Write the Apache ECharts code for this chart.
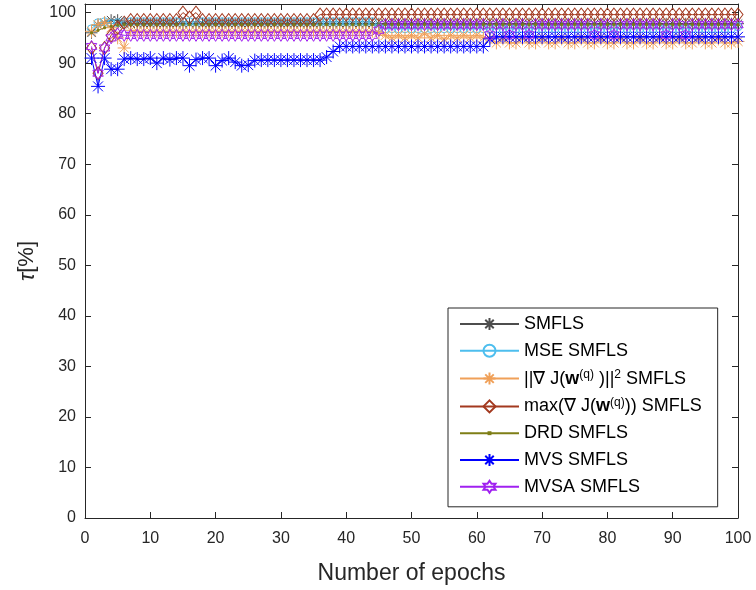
<!DOCTYPE html>
<html>
<head>
<meta charset="utf-8">
<script src="https://cdn.jsdelivr.net/npm/echarts@6/dist/echarts.min.js"></script>
<style>
html,body{margin:0;padding:0;background:#fff;}
#chart{width:756px;height:590px;}
</style>
</head>
<body>
<div id="chart"></div>
<script>
// ---- data ----
var epochs = [];
for (var k = 1; k <= 100; k++) epochs.push(k);

var seriesNames = ['SMFLS', 'MSE SMFLS', '||∇ J(w(q) )||2 SMFLS', 'max(∇ J(w(q))) SMFLS', 'DRD SMFLS', 'MVS SMFLS', 'MVSA SMFLS'];

var smfls = [
  96.0, 97.5, 98.0, 98.5, 98.5, 97.8, 97.8, 97.8, 97.8, 97.8,
  97.8, 97.8, 97.8, 97.8, 97.8, 97.8, 97.8, 97.8, 97.8, 97.8,
  97.8, 97.8, 97.8, 97.8, 97.8, 97.8, 97.8, 97.8, 97.8, 97.8,
  97.8, 97.8, 97.8, 97.8, 97.8, 97.8, 97.8, 97.8, 97.8, 97.8,
  97.8, 97.8, 97.8, 97.8, 97.8, 97.8, 97.8, 97.8, 97.8, 97.8,
  97.8, 97.8, 97.8, 97.8, 97.8, 97.8, 97.8, 97.8, 97.8, 97.8,
  97.8, 97.8, 97.8, 97.8, 97.8, 97.8, 97.8, 97.8, 97.8, 97.8,
  97.8, 97.8, 97.8, 97.8, 97.8, 97.8, 97.8, 97.8, 97.8, 97.8,
  97.8, 97.8, 97.8, 97.8, 97.8, 97.8, 97.8, 97.8, 97.8, 97.8,
  97.8, 97.8, 97.8, 97.8, 97.8, 97.8, 97.8, 97.8, 97.8, 97.8
];

var mseSmfls = [
  96.8, 98.0, 98.2, 97.8, 98.0, 98.2, 98.2, 98.2, 98.2, 98.2,
  98.2, 98.2, 98.2, 98.2, 98.2, 98.2, 98.2, 98.2, 98.2, 98.2,
  98.2, 98.2, 98.2, 98.2, 98.2, 98.2, 98.2, 98.2, 98.2, 98.2,
  98.2, 98.2, 98.2, 98.2, 98.2, 98.2, 98.2, 98.2, 98.2, 98.2,
  98.2, 98.2, 98.2, 98.2, 97.0, 96.8, 96.8, 96.8, 96.8, 96.8,
  96.8, 96.8, 96.8, 96.8, 96.8, 96.8, 96.8, 96.8, 96.8, 96.8,
  96.8, 96.8, 96.8, 96.8, 96.8, 96.8, 96.8, 96.8, 96.8, 96.8,
  96.8, 96.8, 96.8, 96.8, 96.8, 96.8, 96.8, 96.8, 96.8, 96.8,
  96.8, 96.8, 96.8, 96.8, 96.8, 96.8, 96.8, 96.8, 96.8, 96.8,
  96.8, 96.8, 96.8, 96.8, 96.8, 96.8, 96.8, 96.8, 96.8, 97.2
];

var gradSmfls = [
  96.3, 97.6, 98.0, 97.0, 95.0, 93.0, 96.5, 96.3, 96.3, 96.3,
  96.3, 96.3, 96.3, 96.3, 96.3, 96.3, 96.3, 96.3, 96.3, 96.3,
  96.3, 96.3, 96.3, 96.3, 96.3, 96.3, 96.3, 96.3, 96.3, 96.3,
  96.3, 96.3, 96.3, 96.3, 96.3, 96.3, 96.3, 96.3, 96.3, 96.3,
  96.3, 96.3, 96.3, 96.3, 96.0, 95.5, 95.0, 95.5, 95.0, 95.5,
  95.0, 95.8, 95.0, 95.5, 94.8, 95.5, 95.0, 95.5, 95.0, 95.5,
  95.0, 95.0, 94.0, 94.8, 94.0, 94.0, 94.8, 94.0, 94.0, 94.8,
  94.0, 94.0, 94.8, 94.0, 94.0, 94.8, 94.0, 94.0, 94.8, 94.0,
  94.0, 94.8, 94.0, 94.0, 94.8, 94.0, 94.0, 94.8, 94.0, 94.0,
  94.8, 94.0, 94.0, 94.8, 94.0, 94.0, 94.8, 94.0, 94.0, 94.3
];

var maxSmfls = [
  93.0, 88.0, 93.0, 95.5, 97.0, 98.0, 98.5, 98.5, 98.5, 98.5,
  98.5, 98.5, 98.5, 98.5, 100.0, 99.0, 100.0, 98.5, 98.5, 98.5,
  98.5, 98.5, 98.5, 98.5, 98.5, 98.5, 98.5, 98.5, 98.5, 98.5,
  98.5, 98.5, 98.5, 98.5, 98.5, 99.6, 99.6, 99.6, 99.6, 99.6,
  99.6, 99.6, 99.6, 99.6, 99.6, 99.6, 99.6, 99.6, 99.6, 99.6,
  99.6, 99.6, 99.6, 99.6, 99.6, 99.6, 99.6, 99.6, 99.6, 99.6,
  99.6, 99.6, 99.6, 99.6, 99.6, 99.6, 99.6, 99.6, 99.6, 99.6,
  99.6, 99.6, 99.6, 99.6, 99.6, 99.6, 99.6, 99.6, 99.6, 99.6,
  99.6, 99.6, 99.6, 99.6, 99.6, 99.6, 99.6, 99.6, 99.6, 99.6,
  99.6, 99.6, 99.6, 99.6, 99.6, 99.6, 99.6, 99.6, 99.6, 99.6
];

var drdSmfls = [
  96.0, 96.5, 97.0, 97.3, 97.5, 97.6, 97.6, 97.6, 97.6, 97.6,
  97.6, 97.6, 97.6, 97.6, 97.6, 97.6, 97.6, 97.6, 97.6, 97.6,
  97.6, 97.6, 97.6, 97.6, 97.6, 97.6, 97.6, 97.6, 97.6, 97.6,
  97.6, 97.6, 97.6, 97.6, 97.6, 97.6, 97.6, 97.6, 97.6, 97.6,
  97.6, 97.6, 97.6, 97.6, 97.6, 97.6, 97.6, 97.6, 97.6, 97.6,
  97.6, 97.6, 97.6, 97.6, 97.6, 97.6, 97.6, 97.6, 97.6, 97.6,
  97.6, 97.6, 97.6, 97.6, 97.6, 97.6, 97.6, 97.6, 97.6, 97.6,
  97.6, 97.6, 97.6, 97.6, 97.6, 97.6, 97.6, 97.6, 97.6, 97.6,
  97.6, 97.6, 97.6, 97.6, 97.6, 97.6, 97.6, 97.6, 97.6, 97.6,
  97.6, 97.6, 97.6, 97.6, 97.6, 97.6, 97.6, 97.6, 97.6, 97.6
];

var mvsSmfls = [
  91.0, 85.4, 91.0, 88.8, 88.8, 90.8, 91.0, 90.8, 90.8, 91.0,
  90.0, 91.0, 90.7, 91.0, 91.0, 89.5, 90.7, 91.0, 91.0, 89.5,
  90.5, 91.0, 90.2, 89.5, 89.6, 90.5, 90.6, 90.6, 90.6, 90.6,
  90.6, 90.6, 90.6, 90.6, 90.6, 90.6, 91.2, 92.3, 93.3, 93.3,
  93.3, 93.3, 93.3, 93.3, 93.3, 93.3, 93.3, 93.3, 93.3, 93.3,
  93.3, 93.3, 93.3, 93.3, 93.3, 93.3, 93.3, 93.3, 93.3, 93.3,
  93.3, 94.8, 95.2, 95.2, 95.2, 95.2, 95.2, 95.2, 95.2, 95.2,
  95.2, 95.2, 95.2, 95.2, 95.2, 95.2, 95.2, 95.2, 95.2, 95.2,
  95.2, 95.2, 95.2, 95.2, 95.2, 95.2, 95.2, 95.2, 95.2, 95.2,
  95.2, 95.2, 95.2, 95.2, 95.2, 95.2, 95.2, 95.2, 95.2, 95.2
];

var mvsaSmfls = [
  93.3, 88.0, 93.0, 95.0, 95.8, 95.5, 95.5, 95.5, 95.5, 95.5,
  95.5, 95.5, 95.5, 95.5, 95.5, 95.5, 95.5, 95.5, 95.5, 95.5,
  95.5, 95.5, 95.5, 95.5, 95.5, 95.5, 95.5, 95.5, 95.5, 95.5,
  95.5, 95.5, 95.5, 95.5, 95.5, 95.5, 95.5, 95.5, 95.5, 95.5,
  95.5, 95.5, 95.5, 95.5, 96.5, 97.6, 97.6, 97.6, 97.6, 97.6,
  97.6, 97.6, 97.6, 97.6, 97.6, 97.6, 97.6, 97.6, 97.6, 97.6,
  97.6, 95.6, 97.6, 97.6, 95.6, 97.6, 97.6, 95.6, 97.6, 97.6,
  97.6, 97.6, 97.6, 97.6, 97.6, 97.6, 97.6, 95.6, 97.6, 97.6,
  95.6, 97.6, 97.6, 97.6, 97.6, 97.6, 97.6, 97.6, 95.6, 97.6,
  97.6, 95.6, 97.6, 97.6, 97.6, 97.6, 97.6, 97.6, 97.6, 97.6
];

var xTicks = [0, 10, 20, 30, 40, 50, 60, 70, 80, 90, 100];
var yTicks = [0, 10, 20, 30, 40, 50, 60, 70, 80, 90, 100];

// ---- styling ----
var FONT = 'Liberation Sans, Arial, Helvetica, sans-serif';
var AX = '#262626';
var ASTER = 'path://M0,-10L0,10M-10,0L10,0M-7.07,-7.07L7.07,7.07M-7.07,7.07L7.07,-7.07';
var HEXA = 'path://M0,-10L2.885,-5L8.66,-5L5.77,0L8.66,5L2.885,5L0,10L-2.885,5L-8.66,5L-5.77,0L-8.66,-5L-2.885,-5Z';
var DOT = 'path://M-10,-10L-10,-10M10,10L10,10M-1.6,-1.6L1.6,-1.6L1.6,1.6L-1.6,1.6Z';

function mk(name, vals, color, symbol, size, filled) {
  return {
    name: name,
    type: 'line',
    data: epochs.map(function (e, i) { return [e, vals[i]]; }),
    symbol: symbol,
    symbolSize: size,
    symbolKeepAspect: true,
    showSymbol: true,
    showAllSymbol: true,
    lineStyle: { color: color, width: 1 },
    itemStyle: { color: filled ? color : 'rgba(0,0,0,0)', borderColor: color, borderWidth: 1 },
    emphasis: { disabled: true },
    animation: false,
    z: 2
  };
}

var seriesVals = [smfls, mseSmfls, gradSmfls, maxSmfls, drdSmfls, mvsSmfls, mvsaSmfls];
var colors = ['#4d4d4d', '#4DBEEE', '#F0A058', '#A3391F', '#7E7E16', '#0000FF', '#A020F0'];
var symbols = [ASTER, 'circle', ASTER, 'diamond', DOT, ASTER, HEXA];
var sizes = [12, 8, 13, [10, 13], 12, 14, 12];
var filled = [false, false, false, false, true, false, false];

var legendLabels = {};
legendLabels[seriesNames[0]] = '{n|SMFLS}';
legendLabels[seriesNames[1]] = '{n|MSE SMFLS}';
legendLabels[seriesNames[2]] = '{n|||∇ J(}{b|w}{s|(q)}{n| )||}{s|2}{n| SMFLS}';
legendLabels[seriesNames[3]] = '{n|max(∇ J(}{b|w}{s|(q)}{n|)) SMFLS}';
legendLabels[seriesNames[4]] = '{n|DRD SMFLS}';
legendLabels[seriesNames[5]] = '{n|MVS SMFLS}';
legendLabels[seriesNames[6]] = '{n|MVSA SMFLS}';

var series = seriesNames.map(function (n, i) {
  return mk(n, seriesVals[i], colors[i], symbols[i], sizes[i], filled[i]);
});

var axisCommon = {
  type: 'value',
  axisLine: { show: true, onZero: false, lineStyle: { color: AX, width: 1 } },
  axisTick: { show: true, inside: true, length: 6, lineStyle: { color: AX, width: 1 } },
  splitLine: { show: false }
};

var option = {
  animation: false,
  backgroundColor: '#fff',
  grid: { left: 85, right: 18, top: 4, bottom: 72, containLabel: false },
  xAxis: [
    Object.assign({}, axisCommon, {
      position: 'bottom', min: 0, max: 100, interval: 10,
      axisLabel: { color: AX, fontSize: 16, fontFamily: FONT, margin: 13,
        formatter: function (v) { return xTicks.indexOf(v) >= 0 ? String(v) : ''; } },
      name: 'Number of epochs', nameLocation: 'middle', nameGap: 44,
      nameTextStyle: { color: AX, fontSize: 23, fontFamily: FONT }
    }),
    Object.assign({}, axisCommon, {
      position: 'top', min: 0, max: 100, interval: 10,
      axisLabel: { show: false }
    })
  ],
  yAxis: [
    Object.assign({}, axisCommon, {
      position: 'left', min: 0, max: 101.7, interval: 10,
      axisLabel: { color: AX, fontSize: 16, fontFamily: FONT, margin: 9, showMaxLabel: false,
        formatter: function (v) { return yTicks.indexOf(v) >= 0 ? String(v) : ''; } },
      name: '{t|τ}[%]', nameLocation: 'middle', nameGap: 44, nameRotate: 90,
      nameTextStyle: { color: AX, fontSize: 22, fontFamily: FONT,
        rich: { t: { fontStyle: 'italic', fontSize: 22, color: AX, fontFamily: FONT } } }
    }),
    Object.assign({}, axisCommon, {
      position: 'right', min: 0, max: 101.7, interval: 10,
      axisLabel: { show: false }
    })
  ],
  legend: {
    show: true,
    data: seriesNames,
    orient: 'vertical',
    left: 448,
    top: 308,
    padding: [7, 16, 11, 11],
    itemGap: 8.8,
    itemWidth: 59,
    itemHeight: 15,
    backgroundColor: '#fff',
    borderColor: AX,
    borderWidth: 1,
    borderRadius: 0,
    selectedMode: false,
    formatter: function (name) { return legendLabels[name]; },
    textStyle: {
      color: '#000', fontSize: 18, fontFamily: FONT,
      rich: {
        n: { fontSize: 18, lineHeight: 20, color: '#000', fontFamily: FONT },
        b: { fontSize: 18, lineHeight: 20, fontWeight: 'bold', color: '#000', fontFamily: FONT },
        s: { fontSize: 12, lineHeight: 13, verticalAlign: 'top', color: '#000', fontFamily: FONT }
      }
    }
  },
  series: series
};

var chart = echarts.init(document.getElementById('chart'), null, { renderer: 'canvas' });
chart.setOption(option);
</script>
</body>
</html>
